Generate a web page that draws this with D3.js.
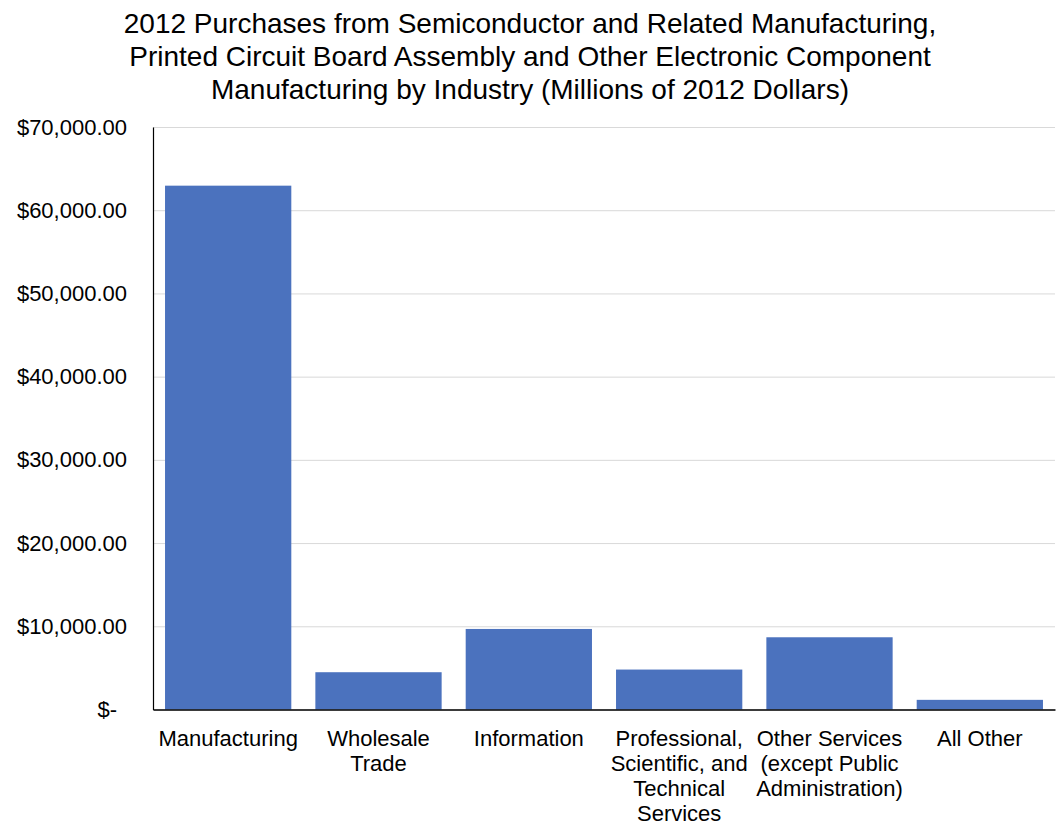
<!DOCTYPE html>
<html>
<head>
<meta charset="utf-8">
<script src="https://cdn.jsdelivr.net/npm/d3@7"></script>
<style>
  body { margin: 0; background: #fff; }
  text { font-family: "Liberation Sans", Arial, sans-serif; fill: #000; }
</style>
</head>
<body>
<div id="chart"></div>
<script>
// chart data
var categories = ["Manufacturing", "Wholesale Trade", "Information",
    "Professional, Scientific, and Technical Services",
    "Other Services (except Public Administration)", "All Other"];
var values = [62950, 4480, 9680, 4800, 8680, 1160];
var yTicks = [0, 10000, 20000, 30000, 40000, 50000, 60000, 70000];
var titleLines = ["2012 Purchases from Semiconductor and Related Manufacturing,",
    "Printed Circuit Board Assembly and Other Electronic Component",
    "Manufacturing by Industry (Millions of 2012 Dollars)"];

var W = 1060, H = 824;
var margin = { top: 127, right: 5, bottom: 114.5, left: 153 },
    width = W - margin.left - margin.right,
    height = H - margin.top - margin.bottom;

var svg = d3.select("#chart").append("svg")
    .attr("width", W)
    .attr("height", H);

// title
svg.append("g").selectAll("text")
    .data(titleLines)
    .enter()
    .append("text")
    .attr("x", W / 2)
    .attr("y", function (d, i) { return 33 + i * 33; })
    .attr("text-anchor", "middle")
    .style("font-size", "28px")
    .text(function (d) { return d; });

var g = svg.append("g")
    .attr("transform", "translate(" + margin.left + "," + margin.top + ")");

var x = d3.scaleBand()
    .domain(categories)
    .range([0, width])
    .paddingInner(0.16)
    .paddingOuter(0.08);

var y = d3.scaleLinear()
    .domain([0, 70000])
    .range([height, 0]);

// gridlines
g.append("g")
    .attr("class", "grid")
    .call(d3.axisLeft(y).tickValues(yTicks).tickSize(-width).tickFormat(""))
    .call(function (s) {
        s.select(".domain").remove();
        s.selectAll("line").attr("stroke", "#d9d9d9").attr("stroke-width", 1);
    });

// bars
g.selectAll(".bar")
    .data(values)
    .enter()
    .append("rect")
    .attr("class", "bar")
    .attr("x", function (d, i) { return x(categories[i]); })
    .attr("width", x.bandwidth())
    .attr("y", function (d) { return y(d); })
    .attr("height", function (d) { return height - y(d); })
    .attr("fill", "#4b72be");

// y axis
var fmt = d3.format(",.2f");
var yAxis = g.append("g")
    .call(d3.axisLeft(y).tickValues(yTicks).tickSize(0).tickPadding(26)
        .tickFormat(function (d) { return d === 0 ? "$-" : "$" + fmt(d); }));
yAxis.select(".domain").attr("stroke", "#000").attr("stroke-width", 1.2);
yAxis.selectAll("text")
    .style("font-size", "22px")
    .style("font-family", "'Liberation Sans', Arial, sans-serif")
    .attr("fill", "#000")
    .attr("dx", function (d) { return d === 0 ? -10 : 0; });

// x axis
var xAxis = g.append("g")
    .attr("transform", "translate(0," + height + ")")
    .call(d3.axisBottom(x).tickSize(0).tickPadding(0).tickFormat(""));
xAxis.select(".domain").attr("stroke", "#000").attr("stroke-width", 1.5);

// wrapped category labels
var labels = g.append("g").selectAll("text")
    .data(categories)
    .enter()
    .append("text")
    .attr("x", function (d) { return x(d) + x.bandwidth() / 2; })
    .attr("y", height + 36)
    .attr("text-anchor", "middle")
    .style("font-size", "22px");

labels.each(function (d) {
    var t = d3.select(this),
        words = d.split(" "),
        line = [],
        tspan = t.append("tspan").attr("x", t.attr("x")).attr("dy", 0);
    words.forEach(function (w) {
        line.push(w);
        tspan.text(line.join(" "));
        if (tspan.node().getComputedTextLength() > 150 && line.length > 1) {
            line.pop();
            tspan.text(line.join(" "));
            line = [w];
            tspan = t.append("tspan").attr("x", t.attr("x")).attr("dy", 25).text(w);
        }
    });
});
</script>
</body>
</html>
